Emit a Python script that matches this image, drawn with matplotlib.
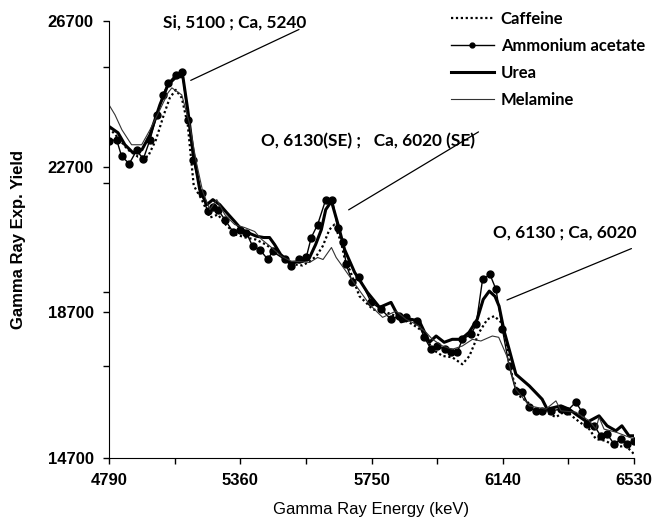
import numpy as np
import matplotlib
matplotlib.use('Agg')
from matplotlib import pyplot as plt
from matplotlib.ticker import FixedLocator

# tick labels of the (piecewise) energy axis
x_labels = [4790, 5360, 5750, 6140, 6530]
x_minor = [5075, 5555, 5945, 6335]
y_major = [14700, 18700, 22700, 26700]
y_minor = [17220, 19250, 22260, 25440]

# Ammonium acetate (keV, yield)
amm_e = [4790, 4823, 4845, 4878, 4910, 4939, 4968, 4998, 5024, 5047, 5079, 5108, 5134, 5155,
         5192, 5218, 5241, 5263, 5293, 5328, 5358, 5378, 5397, 5418, 5442, 5456, 5492, 5512,
         5536, 5556, 5571, 5590, 5614, 5634, 5649, 5664, 5675, 5693, 5714, 5749, 5779, 5808,
         5833, 5853, 5886, 5907, 5927, 5946, 5967, 5986, 6005, 6020, 6046, 6061, 6080, 6102,
         6120, 6139, 6159, 6179, 6198, 6219, 6239, 6257, 6283, 6313, 6331, 6357, 6376, 6391,
         6412, 6431, 6450, 6471, 6491, 6510, 6530]
amm_y = [23412, 23440, 22982, 22782, 23146, 22911, 23440, 24124, 24672, 24993, 25220, 25294, 23987, 22891,
         21979, 21475, 21604, 21521, 21247, 20919, 20973, 20891, 20508, 20425, 20151, 20371, 20151, 19968,
         20151, 20206, 20754, 21110, 21795, 21795, 21028, 20645, 20014, 19529, 19658, 18973, 18781, 18507,
         18598, 18562, 18461, 18014, 17685, 17776, 17685, 17603, 17603, 17959, 18096, 18370, 19603, 19740,
         19329, 18233, 17228, 16543, 16507, 16096, 15995, 15995, 15995, 16041, 15987, 16233, 15959, 15630,
         15584, 15310, 15356, 15082, 15219, 15082, 15173]

# Urea
urea_e = [4790, 4829, 4859, 4894, 4933, 4968, 5011, 5046, 5083, 5111, 5132, 5154, 5184, 5215,
          5241, 5271, 5301, 5336, 5364, 5382, 5408, 5430, 5447, 5462, 5480, 5507, 5545, 5566,
          5584, 5601, 5614, 5631, 5649, 5670, 5700, 5738, 5774, 5808, 5838, 5868, 5892, 5922,
          5942, 5966, 5990, 6016, 6040, 6064, 6082, 6100, 6117, 6129, 6144, 6159, 6179, 6219,
          6257, 6272, 6313, 6337, 6357, 6391, 6426, 6450, 6476, 6494, 6515, 6530]
urea_y = [23804, 23631, 23302, 23083, 23165, 23576, 24398, 24946, 25174, 25166, 24261, 23165, 22069, 21658,
          21795, 21658, 21439, 21193, 20973, 20891, 20790, 20754, 20754, 20562, 20288, 20069, 20097, 20206,
          20562, 20973, 21521, 21749, 21165, 20425, 19795, 19247, 18836, 18973, 18439, 18507, 18461, 17877,
          18050, 17877, 17959, 17959, 18151, 18507, 19055, 19283, 19138, 18872, 18187, 17685, 17000, 16680,
          16315, 16041, 16132, 16041, 15904, 15685, 15858, 15584, 15447, 15584, 15310, 15310]

# Melamine
mel_e = [4790, 4816, 4846, 4888, 4932, 4968, 5011, 5046, 5063, 5106, 5141, 5167, 5197, 5228,
         5258, 5293, 5336, 5373, 5403, 5424, 5453, 5483, 5513, 5536, 5566, 5590, 5606, 5631,
         5645, 5664, 5705, 5744, 5783, 5823, 5853, 5883, 5912, 5931, 5961, 5990, 6020, 6050,
         6075, 6109, 6128, 6152, 6179, 6219, 6268, 6298, 6313, 6357, 6397, 6417, 6426, 6441,
         6476, 6515, 6530]
mel_y = [24398, 24124, 23713, 23302, 23302, 23713, 24261, 24727, 24864, 24672, 23850, 22891, 22015, 21521,
         21795, 21384, 21110, 21028, 20919, 20699, 20480, 20234, 20097, 20097, 20069, 20206, 20151, 20480,
         20206, 19960, 19420, 18918, 18562, 18735, 18507, 18370, 18151, 17959, 17776, 17685, 17776, 17959,
         17913, 18050, 18014, 17502, 16589, 16132, 16041, 16269, 15995, 15959, 15721, 15493, 15822, 15493,
         15411, 15274, 15219]

# Caffeine
caf_e = [4790, 4829, 4872, 4916, 4959, 4994, 5028, 5054, 5080, 5106, 5132, 5158, 5193, 5228,
         5263, 5297, 5341, 5376, 5406, 5436, 5465, 5495, 5522, 5545, 5566, 5586, 5605, 5625,
         5640, 5660, 5675, 5685, 5714, 5754, 5794, 5833, 5872, 5901, 5931, 5961, 5990, 6020,
         6041, 6070, 6094, 6115, 6135, 6150, 6168, 6189, 6209, 6238, 6268, 6298, 6327, 6357,
         6397, 6417, 6446, 6476, 6506, 6530]
caf_y = [23768, 23494, 23165, 22974, 22974, 23440, 24124, 24590, 24809, 24590, 23850, 22179, 21795, 21302,
         21384, 21110, 20836, 20754, 20699, 20562, 20371, 20151, 20014, 19987, 20097, 20242, 20516, 20973,
         21110, 20617, 19968, 19877, 19146, 18781, 18699, 18562, 18370, 18187, 17685, 17502, 17466, 17274,
         17502, 18151, 18507, 18598, 18425, 17959, 16954, 16406, 16269, 16041, 15959, 15822, 15995, 15767,
         15493, 15219, 15173, 15000, 15036, 14808]

# peak annotations: text, text centre, line start (peak), line end
notes = ['Si, 5100 ; Ca, 5240', 'O, 6130(SE) ;   Ca, 6020 (SE)', 'O, 6130 ; Ca, 6020']
note_xy = [(5336, 26650), (5740, 23412), (6325, 20891)]
note_from = [(5134, 25037), (5675, 21475), (6145, 19009)]
note_to = [(5542, 26500), (6075, 23694), (6545, 20480)]

pos = np.arange(len(x_labels))
def fwd(x):
    return np.interp(x, x_labels, pos)
def inv(p):
    return np.interp(p, pos, x_labels)

fig = plt.figure(figsize=(6.58, 5.19), dpi=100)
ax = fig.add_axes([109/658, 1-458/519, 525/658, 437/519])
ax.set_xscale('function', functions=(fwd, inv))

ax.plot(caf_e, caf_y, linestyle=(0, (1, 1.2)), color='black', lw=1.6, label='Caffeine')
ax.plot(amm_e, amm_y, '-o', color='black', lw=1.0, ms=5, label='Ammonium acetate')
ax.plot(urea_e, urea_y, '-', color='black', lw=2.2, label='Urea')
ax.plot(mel_e, mel_y, '-', color='#333333', lw=0.8, label='Melamine')

ax.set_xlim(4790, 6530)
ax.set_ylim(14700, 26700)
ax.xaxis.set_major_locator(FixedLocator(x_labels))
ax.xaxis.set_minor_locator(FixedLocator(x_minor))
ax.set_xticklabels([str(v) for v in x_labels])
ax.yaxis.set_major_locator(FixedLocator(y_major))
ax.yaxis.set_minor_locator(FixedLocator(y_minor))
ax.set_yticklabels([str(v) for v in y_major])
for lab in ax.get_xticklabels() + ax.get_yticklabels():
    lab.set_fontfamily('Liberation Sans')
    lab.set_fontweight('bold')
    lab.set_fontsize(12)
ax.tick_params(which='both', direction='out', length=4, width=1, pad=7)
for s in ['top', 'right']:
    ax.spines[s].set_visible(False)

ax.set_xlabel('Gamma Ray Energy (keV)', fontfamily='Liberation Sans', fontsize=12, labelpad=10)
ax.set_ylabel('Gamma Ray Exp. Yield', fontfamily='Liberation Sans', fontsize=12,
              fontweight='bold', labelpad=16)

for t, (tx, ty), p0, p1 in zip(notes, note_xy, note_from, note_to):
    ax.text(tx, ty, t, ha='center', va='center', fontfamily='Lato', fontweight='bold', fontsize=12.4)
    ax.annotate('', xy=p0, xytext=p1, arrowprops=dict(arrowstyle='-', lw=0.9, color='black'),
                annotation_clip=False)

leg = ax.legend(loc='upper left', bbox_to_anchor=(444/658, 1-4/519), bbox_transform=fig.transFigure,
                frameon=False, handlelength=2.6, handletextpad=0.4, labelspacing=0.67,
                borderaxespad=0, prop={'family': 'Lato', 'weight': 'bold', 'size': 12})
for h in leg.legend_handles:
    h.set_markersize(3.5)

fig.savefig('out.png', dpi=100)
